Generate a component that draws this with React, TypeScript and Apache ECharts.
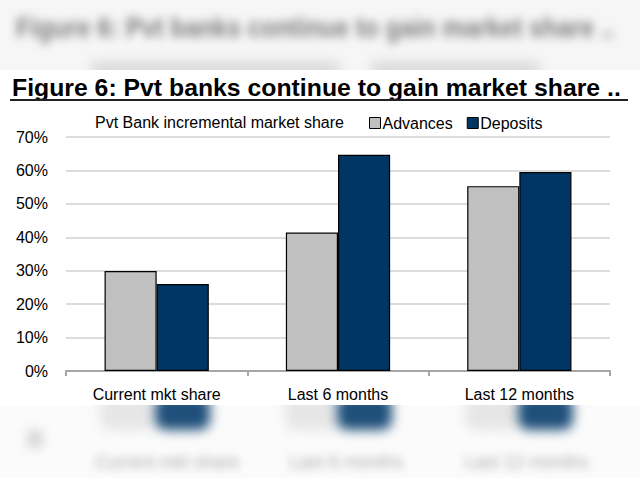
import React, { useEffect, useRef } from "react";
import * as echarts from "echarts";

const categories = ["Current mkt share", "Last 6 months", "Last 12 months"];
const advances = [29.9, 41.4, 55.3];
const deposits = [26.0, 64.7, 59.5];
const yTicks = [0, 10, 20, 30, 40, 50, 60, 70];

const FONT = "'Liberation Sans', Arial, sans-serif";
const TITLE = "Figure 6: Pvt banks continue to gain market share ..";

export default function App() {
  const ref = useRef<HTMLDivElement>(null);

  useEffect(() => {
    if (!ref.current) return;
    const chart = echarts.init(ref.current, null, { renderer: "svg" });
    chart.setOption({
      animation: false,
      backgroundColor: "transparent",
      textStyle: { fontFamily: FONT },
      grid: { left: 66, right: 30, top: 137, bottom: 107 },
      legend: {
        left: 369,
        top: 115,
        padding: 0,
        itemWidth: 11,
        itemHeight: 11,
        itemGap: 14,
        icon: "rect",
        textStyle: { fontSize: 16, color: "#000", fontFamily: FONT, padding: [0, 0, 0, -3] },
        itemStyle: { borderColor: "#000", borderWidth: 1 },
        data: ["Advances", "Deposits"],
      },
      xAxis: {
        type: "category",
        data: categories,
        axisLine: { show: true, lineStyle: { color: "#a6a6a6", width: 2 } },
        axisTick: { show: true, length: 5, lineStyle: { color: "#a6a6a6", width: 2 } },
        axisLabel: { fontSize: 16, color: "#000", margin: 15, fontFamily: FONT },
      },
      yAxis: {
        type: "value",
        min: yTicks[0],
        max: yTicks[yTicks.length - 1],
        interval: 10,
        axisLine: { show: false },
        axisTick: { show: false },
        axisLabel: { fontSize: 16, color: "#000", margin: 18, formatter: "{value}%", fontFamily: FONT },
        splitLine: { lineStyle: { color: "#dcdcdc", width: 2 } },
      },
      series: [
        {
          name: "Advances",
          type: "bar",
          data: advances,
          barGap: "0%",
          barCategoryGap: "42.5%",
          itemStyle: { color: "#c0c0c0", borderColor: "#000", borderWidth: 1.2 },
        },
        {
          name: "Deposits",
          type: "bar",
          data: deposits,
          barGap: "0%",
          barCategoryGap: "42.5%",
          itemStyle: { color: "#003663", borderColor: "#000", borderWidth: 1.2 },
        },
      ],
      graphic: [
        {
          type: "text",
          x: 12,
          y: 76,
          scaleX: 1.078,
          style: {
            text: TITLE,
            font: "bold 23px 'Liberation Sans', Arial, sans-serif",
            fill: "#000",
          },
        },
        {
          type: "line",
          shape: { x1: 10, y1: 100, x2: 628, y2: 100 },
          style: { stroke: "#222", lineWidth: 2 },
        },
        {
          type: "text",
          left: 95,
          top: 114,
          style: {
            text: "Pvt Bank incremental market share",
            font: "16px " + FONT,
            fill: "#000",
          },
        },
      ],
    });
    return () => chart.dispose();
  }, []);

  const blurText = (text: string, style: React.CSSProperties) => (
    <div
      style={{
        position: "absolute",
        whiteSpace: "nowrap",
        fontFamily: FONT,
        filter: "blur(4px)",
        lineHeight: 1.2,
        ...style,
      }}
    >
      {text}
    </div>
  );

  const blob = (style: React.CSSProperties) => (
    <div style={{ position: "absolute", filter: "blur(6px)", borderRadius: 10, ...style }} />
  );

  return (
    <div
      style={{
        position: "fixed",
        left: 0,
        top: 0,
        width: 640,
        height: 478,
        background: "#fff",
        overflow: "hidden",
      }}
    >
      <div style={{ position: "absolute", left: 0, top: 0, width: 640, height: 70, overflow: "hidden", background: "#f6f6f6" }}>
        {blurText(TITLE, {
          left: 16,
          top: 11,
          fontSize: 28,
          fontWeight: "bold",
          color: "#7a7a7a",
          filter: "blur(5px)",
          transform: "scaleX(0.87)",
          transformOrigin: "0 0",
        })}
        {blob({ left: 90, top: 62, width: 250, height: 14, background: "#d8d8d8" })}
        {blob({ left: 370, top: 62, width: 170, height: 14, background: "#d8d8d8" })}
      </div>
      <div style={{ position: "absolute", left: 0, top: 405, width: 640, height: 73, overflow: "hidden", background: "#fbfbfb" }}>
        {blob({ left: 100, top: -10, width: 55, height: 35, background: "#e6e6e6" })}
        {blob({ left: 155, top: -10, width: 55, height: 35, background: "#1f4f7a" })}
        {blob({ left: 285, top: -10, width: 55, height: 35, background: "#e6e6e6" })}
        {blob({ left: 337, top: -10, width: 55, height: 35, background: "#1f4f7a" })}
        {blob({ left: 465, top: -10, width: 55, height: 35, background: "#e6e6e6" })}
        {blob({ left: 518, top: -10, width: 55, height: 35, background: "#1f4f7a" })}
        {blob({ left: 28, top: 25, width: 14, height: 18, background: "#ccc" })}
        {blurText("Current mkt share", { left: 95, top: 47, fontSize: 18, color: "#aaa" })}
        {blurText("Last 6 months", { left: 290, top: 47, fontSize: 18, color: "#aaa" })}
        {blurText("Last 12 months", { left: 465, top: 47, fontSize: 18, color: "#aaa" })}
      </div>
      <div ref={ref} style={{ position: "absolute", left: 0, top: 0, width: 640, height: 478 }} />
    </div>
  );
}
